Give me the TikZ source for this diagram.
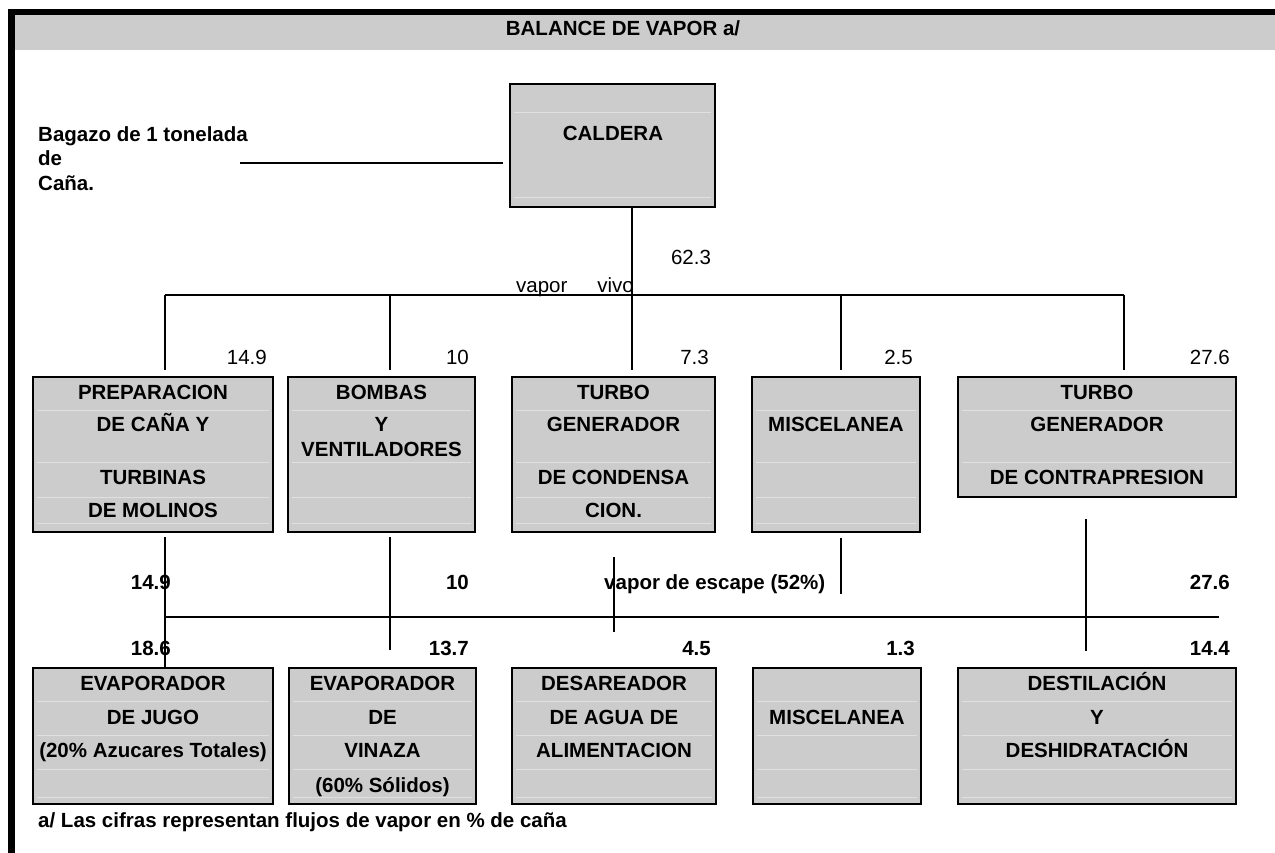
\documentclass[tikz,border=0pt]{standalone}
\usepackage{fontspec}
\setmainfont{Liberation Sans}
\definecolor{boxgray}{RGB}{204,204,204}
\definecolor{rowline}{RGB}{224,224,224}
\begin{document}
\begin{tikzpicture}[x=1pt,y=-1pt,
  box/.style={draw=black, line width=2.2pt, fill=boxgray, anchor=north west, inner sep=0pt, outer sep=0pt},
  bt/.style={font=\fontsize{20.5}{24}\selectfont\bfseries, anchor=base, inner sep=0pt},
  blt/.style={font=\fontsize{20.5}{24}\selectfont\bfseries, anchor=base west, inner sep=0pt},
  num/.style={font=\fontsize{20.5}{24}\selectfont, anchor=base east, inner sep=0pt},
  bnum/.style={font=\fontsize{20.5}{24}\selectfont\bfseries, anchor=base east, inner sep=0pt},
  conn/.style={line width=1.2pt},
  faint/.style={draw=rowline, line width=0.8pt}]
\fill[white] (0,0) rectangle (1275,853);
\useasboundingbox (0,0) rectangle (1275,853);
% frame and header
\fill[black] (8,9) rectangle (1275,15);
\fill[black] (8,9) rectangle (15,853);
\fill[boxgray] (15,15) rectangle (1275,50);
\node[bt] (title) at (623,35.8) {BALANCE DE VAPOR a/};
% bagazo
\node[blt] (bag1) at (38,141.5) {Bagazo de 1 tonelada};
\node[blt] (bag2) at (38,166) {de};
\node[blt] (bag3) at (38,190.5) {Caña.};
% caldera
\node[box, minimum width=205pt, minimum height=123pt] (cal) at (510,84) {};
\draw[faint] (514,112) -- (711,112) (514,197) -- (711,197);
\node[bt] (calt) at (613,141) {CALDERA};
\coordinate (bagend) at (240,163);
\coordinate (calin) at (503,163);
\draw[conn] (bagend) -- (calin);
% top row boxes
\node[box, minimum width=240pt, minimum height=155pt] (b1) at (33,377) {};
\node[box, minimum width=187pt, minimum height=155pt] (b2) at (288,377) {};
\node[box, minimum width=203pt, minimum height=155pt] (b3) at (512,377) {};
\node[box, minimum width=168pt, minimum height=155pt] (b4) at (752,377) {};
\node[box, minimum width=278pt, minimum height=120pt] (b5) at (958,377) {};
\foreach \y in {410,462,497,523}{
  \draw[faint] (37,\y) -- (269,\y);
  \draw[faint] (292,\y) -- (471,\y);
  \draw[faint] (516,\y) -- (711,\y);
  \draw[faint] (756,\y) -- (916,\y);
}
\foreach \y in {410,462}{\draw[faint] (962,\y) -- (1232,\y);}
% top row texts
\node[bt] (b1a) at (153,399.3) {PREPARACION};
\node[bt] (b1b) at (153,431.3) {DE CAÑA Y};
\node[bt] (b1c) at (153,484.3) {TURBINAS};
\node[bt] (b1d) at (153,517.3) {DE MOLINOS};
\node[bt] (b2a) at (381.5,399.3) {BOMBAS};
\node[bt] (b2b) at (381.5,431.3) {Y};
\node[bt] (b2c) at (381.5,456.3) {VENTILADORES};
\node[bt] (b3a) at (613.5,399.3) {TURBO};
\node[bt] (b3b) at (613.5,431.3) {GENERADOR};
\node[bt] (b3c) at (613.5,484.3) {DE CONDENSA};
\node[bt] (b3d) at (613.5,517.3) {CION.};
\node[bt] (b4a) at (836,431.3) {MISCELANEA};
\node[bt] (b5a) at (1097,399.3) {TURBO};
\node[bt] (b5b) at (1097,431.3) {GENERADOR};
\node[bt] (b5c) at (1097,484.3) {DE CONTRAPRESION};
% live steam distribution
\coordinate (h1) at (165,295);
\coordinate (h2) at (390,295);
\coordinate (h3) at (632,295);
\coordinate (h4) at (841,295);
\coordinate (h5) at (1124,295);
\coordinate (cs) at (cal.south -| h3);
\draw[conn] (h1) -- (h5);
\draw[conn, shorten >=7pt] (cs) -- (h3 |- b3.north);
\draw[conn, shorten >=7pt] (h1) -- (h1 |- b1.north);
\draw[conn, shorten >=7pt] (h2) -- (h2 |- b2.north);
\draw[conn, shorten >=7pt] (h4) -- (h4 |- b4.north);
\draw[conn, shorten >=7pt] (h5) -- (h5 |- b5.north);
\node[font=\fontsize{20.5}{24}\selectfont, anchor=base, inner sep=0pt] (n623) at (691,264.3) {62.3};
\node[font=\fontsize{20.5}{24}\selectfont, anchor=base, inner sep=0pt] (vv) at (575,293) {vapor\hspace{30pt}vivo};
\node[num] (n1) at (267,364.3) {14.9};
\node[num] (n2) at (469,364.3) {10};
\node[num] (n3) at (709,364.3) {7.3};
\node[num] (n4) at (913,364.3) {2.5};
\node[num] (n5) at (1230,364.3) {27.6};
% bottom row boxes
\node[box, minimum width=240pt, minimum height=136pt] (c1) at (33,668) {};
\node[box, minimum width=187pt, minimum height=136pt] (c2) at (289,668) {};
\node[box, minimum width=204pt, minimum height=136pt] (c3) at (512,668) {};
\node[box, minimum width=168pt, minimum height=136pt] (c4) at (753,668) {};
\node[box, minimum width=278pt, minimum height=136pt] (c5) at (958,668) {};
\foreach \y in {701,735,769,797}{
  \draw[faint] (37,\y) -- (269,\y);
  \draw[faint] (293,\y) -- (472,\y);
  \draw[faint] (516,\y) -- (712,\y);
  \draw[faint] (757,\y) -- (917,\y);
  \draw[faint] (962,\y) -- (1232,\y);
}
\node[bt] (c1a) at (153,690.3) {EVAPORADOR};
\node[bt] (c1b) at (153,724.3) {DE JUGO};
\node[bt] (c1c) at (153,757.3) {(20\% Azucares Totales)};
\node[bt] (c2a) at (382.5,690.3) {EVAPORADOR};
\node[bt] (c2b) at (382.5,724.3) {DE};
\node[bt] (c2c) at (382.5,757.3) {VINAZA};
\node[bt] (c2d) at (382.5,792.3) {(60\% Sólidos)};
\node[bt] (c3a) at (614,690.3) {DESAREADOR};
\node[bt] (c3b) at (614,724.3) {DE AGUA DE};
\node[bt] (c3c) at (614,757.3) {ALIMENTACION};
\node[bt] (c4a) at (837,724.3) {MISCELANEA};
\node[bt] (c5a) at (1097,690.3) {DESTILACIÓN};
\node[bt] (c5b) at (1097,724.3) {Y};
\node[bt] (c5c) at (1097,757.3) {DESHIDRATACIÓN};
% exhaust steam
\coordinate (l1) at (165,617);
\coordinate (l2) at (390,617);
\coordinate (l3) at (614,617);
\coordinate (l4) at (841,617);
\coordinate (l5) at (1086,617);
\coordinate (lend) at (1219,617);
\coordinate (m4end) at (841,594);
\draw[conn] (l1) -- (lend);
\draw[conn, shorten <=5pt] (l1 |- b1.south) -- (l1 |- c1.north);
\draw[conn, shorten <=5pt, shorten >=18pt] (l2 |- b2.south) -- (l2 |- c2.north);
\draw[conn, shorten <=25pt, shorten >=36pt] (l3 |- b3.south) -- (l3 |- c3.north);
\draw[conn, shorten <=6pt] (l4 |- b4.south) -- (m4end);
\draw[conn, shorten <=22pt, shorten >=17pt] (l5 |- b5.south) -- (l5 |- c5.north);
\node[bnum] (e1) at (171,589.3) {14.9};
\node[bnum] (e2) at (469,589.3) {10};
\node[blt] (esc) at (604,589.3) {vapor de escape (52\%)};
\node[bnum] (e5) at (1230,589.3) {27.6};
\node[bnum] (f1) at (171,655.3) {18.6};
\node[bnum] (f2) at (469,655.3) {13.7};
\node[bnum] (f3) at (711,655.3) {4.5};
\node[bnum] (f4) at (915,655.3) {1.3};
\node[bnum] (f5) at (1230,655.3) {14.4};
% footnote
\node[blt] (foot) at (38,827) {a/ Las cifras representan flujos de vapor en \% de caña};
\end{tikzpicture}
\end{document}
